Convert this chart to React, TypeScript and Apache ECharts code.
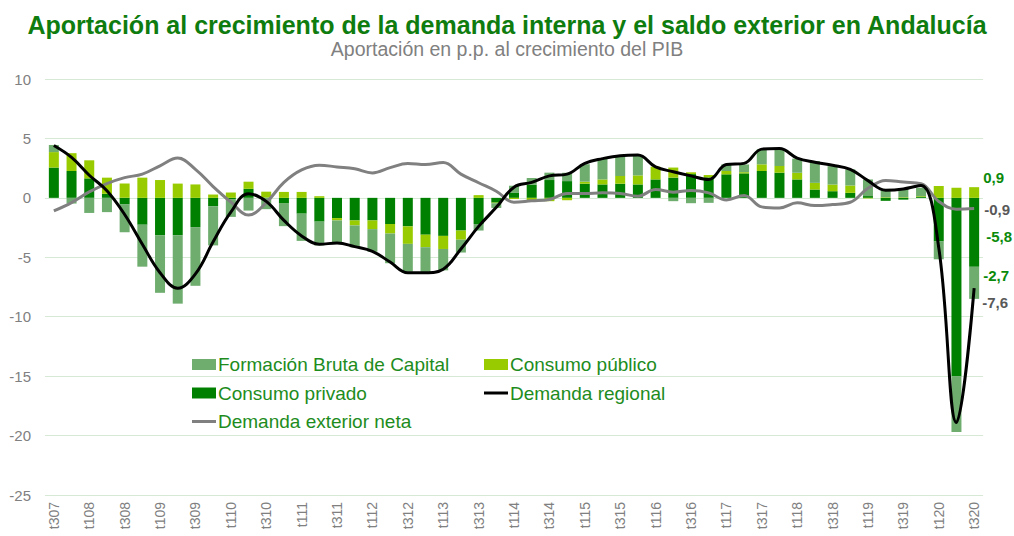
import React, { useEffect, useRef } from "react";
import * as echarts from "echarts";

const categories = [
  "t307", "t407",
  "t108", "t208", "t308", "t408",
  "t109", "t209", "t309", "t409",
  "t110", "t210", "t310", "t410",
  "t111", "t211", "t311", "t411",
  "t112", "t212", "t312", "t412",
  "t113", "t213", "t313", "t413",
  "t114", "t214", "t314", "t414",
  "t115", "t215", "t315", "t415",
  "t116", "t216", "t316", "t416",
  "t117", "t217", "t317", "t417",
  "t118", "t218", "t318", "t418",
  "t119", "t219", "t319", "t419",
  "t120", "t220", "t320",
];

const formacionBrutaCapital = [
  0.6, -0.48, -1.27, -1.2, -2.34, -3.53, -4.83, -5.76, -4.94, -3.3,
  -1.5, -1.07, -0.95, -1.9, -2.29, -2.0, -1.9, -1.84, -1.9, -2.5,
  -2.34, -2.2, -1.8, -1.08, -0.55, -0.4, 0.57, 0.57, 0.62, 0.7,
  1.47, 1.75, 1.7, 1.7, 0.0, -0.28, -0.45, -0.42, 0.56, 0.65,
  1.27, 1.4, 1.19, 1.84, 1.55, 1.36, 1.4, 0.7, 0.75, 0.7,
  -1.5, -4.7, -2.7,
];

const consumoPublico = [
  1.3, 1.5, 1.52, 1.36, 1.2, 1.7, 1.5, 1.2, 1.13, 0.28,
  0.45, 0.6, 0.5, 0.5, 0.5, 0.14, -0.2, -0.42, -0.73, -0.8,
  -1.47, -1.05, -1.1, -0.77, 0.23, -0.05, -0.1, -0.2, -0.28, -0.2,
  0.17, 0.42, 0.65, 0.76, 1.07, 0.85, 0.15, 0.2, 0.28, 0.1,
  0.56, 0.56, 0.56, 0.56, 0.56, 0.62, -0.05, 0.05, 0.05, 0.05,
  1.0, 0.85, 0.9,
];

const consumoPrivado = [
  2.55, 2.26, 1.64, 0.34, -0.56, -2.26, -3.16, -3.14, -2.46, -0.7,
  -0.1, 0.76, 0.02, -0.48, -1.33, -2.0, -1.7, -1.9, -1.9, -2.2,
  -2.4, -3.1, -3.2, -2.75, -2.2, -0.4, 0.45, 1.1, 1.5, 1.41,
  1.19, 1.13, 1.19, 1.13, 1.55, 1.7, 2.0, 1.72, 1.98, 2.06,
  2.26, 2.12, 1.55, 0.7, 0.56, 0.42, 0.15, -0.25, -0.15, 0.1,
  -3.67, -15.0, -5.8,
];

const demandaRegional = [
  4.4, 3.4, 1.9, 0.6, -1.4, -3.9, -6.3, -7.6, -6.4, -3.7,
  -1.2, 0.35, -0.3, -1.9, -3.2, -3.9, -3.8, -4.1, -4.5, -5.4,
  -6.3, -6.3, -6.0, -4.3, -2.4, -0.8, 0.9, 1.3, 1.85, 2.0,
  2.9, 3.3, 3.55, 3.6, 2.6, 2.2, 1.85, 1.55, 2.8, 2.9,
  4.1, 4.15, 3.35, 3.0, 2.75, 2.4, 1.45, 0.65, 0.75, 1.05,
  -4.2, -18.9, -7.6,
];

const demandaExteriorNeta = [
  -1.1, -0.4, 0.5, 1.2, 1.7, 2.0, 2.7, 3.35, 2.4, 0.95,
  -0.35, -1.45, -0.4, 1.3, 2.35, 2.75, 2.6, 2.45, 2.1, 2.54,
  2.9, 2.8, 2.97, 2.0, 1.27, 0.56, -0.37, -0.25, -0.14, 0.37,
  0.37, 0.42, 0.37, 0.14, 0.7, 0.48, 0.62, 0.42, -0.17, 0.2,
  -0.76, -0.85, -0.42, -0.65, -0.56, -0.37, 0.8, 1.47, 1.33, 1.2,
  -0.3, -0.95, -0.9,
];

const yTicks = { min: -25, max: 10, interval: 5 };

const GREEN_TITLE = "#0e7c0e";
const GREEN_TEXT = "#1d8c1d";
const C_FBC = "#6fad6f";
const C_PUB = "#99cc00";
const C_PRIV = "#008000";
const FONT = "'Liberation Sans', Arial, sans-serif";
const LINE_ICON = "path://M0,0H24V3H0Z";

const fmt = (v: number) => v.toFixed(1).replace(".", ",");

function withEndLabel(arr: number[], color: string, offsetY: number, distance: number) {
  const last = arr.length - 1;
  return arr.map((v, i) =>
    i === last
      ? {
          value: v,
          label: {
            show: true,
            position: "right",
            distance,
            offset: [0, offsetY],
            color,
            fontFamily: FONT,
            fontWeight: "bold",
            fontSize: 15,
            formatter: (p: any) => fmt(p.value),
          },
        }
      : v
  );
}

const legendText = {
  fontFamily: FONT,
  fontSize: 19,
  lineHeight: 19,
  color: GREEN_TEXT,
  padding: [0, 0, 0, -3],
};

export default function App() {
  const ref = useRef<HTMLDivElement>(null);

  useEffect(() => {
    if (!ref.current) return;
    const chart = echarts.init(ref.current, undefined, { renderer: "svg" });
    const option: any = {
      animation: false,
      backgroundColor: "#ffffff",
      title: {
        text: "Aportación al crecimiento de la demanda interna y el saldo exterior en Andalucía",
        subtext: "Aportación en p.p. al crecimiento del PIB",
        left: "center",
        top: 7,
        itemGap: 2,
        textStyle: {
          fontFamily: FONT,
          fontSize: 25,
          fontWeight: "bold",
          color: GREEN_TITLE,
        },
        subtextStyle: {
          fontFamily: FONT,
          fontSize: 19.5,
          color: "#808080",
        },
      },
      legend: [
        {
          left: 192,
          top: 355,
          padding: 0,
          orient: "vertical",
          itemGap: 9.5,
          itemWidth: 24,
          itemHeight: 11,
          textStyle: legendText,
          data: [
            { name: "Formación Bruta de Capital", icon: "rect" },
            { name: "Consumo privado", icon: "rect" },
            { name: "Demanda exterior neta", icon: LINE_ICON },
          ],
        },
        {
          left: 484,
          top: 355,
          padding: 0,
          orient: "vertical",
          itemGap: 9.5,
          itemWidth: 24,
          itemHeight: 11,
          textStyle: legendText,
          data: [
            { name: "Consumo público", icon: "rect" },
            { name: "Demanda regional", icon: LINE_ICON },
          ],
        },
      ],
      grid: { left: 45, right: 31, top: 79, bottom: 41, containLabel: false },
      xAxis: {
        type: "category",
        data: categories,
        boundaryGap: true,
        axisLine: { show: false },
        axisTick: { show: false },
        axisLabel: {
          interval: 1,
          rotate: 90,
          margin: 7,
          color: "#808080",
          fontFamily: FONT,
          fontSize: 14,
        },
      },
      yAxis: {
        type: "value",
        min: yTicks.min,
        max: yTicks.max,
        interval: yTicks.interval,
        axisLine: { show: false },
        axisTick: { show: false },
        axisLabel: {
          margin: 14,
          color: "#808080",
          fontFamily: FONT,
          fontSize: 15,
        },
        splitLine: { lineStyle: { color: "#d5e9d5", width: 1 } },
      },
      series: [
        {
          name: "Consumo privado",
          type: "bar",
          stack: "total",
          barWidth: 10,
          itemStyle: { color: C_PRIV },
          data: withEndLabel(consumoPrivado, "#0a8a0a", 4, 7),
        },
        {
          name: "Consumo público",
          type: "bar",
          stack: "total",
          barWidth: 10,
          itemStyle: { color: C_PUB },
          data: withEndLabel(consumoPublico, "#0a8a0a", -15, 4),
        },
        {
          name: "Formación Bruta de Capital",
          type: "bar",
          stack: "total",
          barWidth: 10,
          itemStyle: { color: C_FBC },
          data: withEndLabel(formacionBrutaCapital, "#0a8a0a", -7, 4),
        },
        {
          name: "Demanda regional",
          type: "line",
          smooth: 0.4,
          symbol: "none",
          z: 5,
          lineStyle: { color: "#000000", width: 3 },
          itemStyle: { color: "#000000" },
          data: demandaRegional,
          endLabel: {
            show: true,
            distance: 8,
            offset: [0, 14],
            color: "#595959",
            fontFamily: FONT,
            fontWeight: "bold",
            fontSize: 15,
            formatter: (p: any) => fmt(p.value),
          },
        },
        {
          name: "Demanda exterior neta",
          type: "line",
          smooth: 0.4,
          symbol: "none",
          z: 4,
          lineStyle: { color: "#808080", width: 3 },
          itemStyle: { color: "#808080" },
          data: demandaExteriorNeta,
          endLabel: {
            show: true,
            distance: 10,
            offset: [0, 1],
            color: "#595959",
            fontFamily: FONT,
            fontWeight: "bold",
            fontSize: 15,
            formatter: (p: any) => fmt(p.value),
          },
        },
      ],
    };
    chart.setOption(option);
    return () => chart.dispose();
  }, []);

  return (
    <div
      ref={ref}
      style={{ position: "absolute", left: 0, top: 0, width: 1014, height: 536 }}
    />
  );
}
